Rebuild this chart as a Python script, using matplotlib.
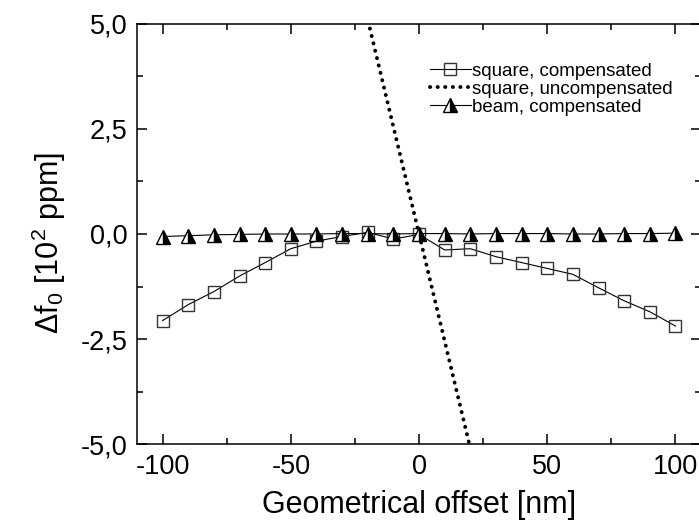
import matplotlib.pyplot as plt
from matplotlib.ticker import MultipleLocator

plt.rcParams['font.family'] = ['Liberation Sans', 'DejaVu Sans']
plt.rcParams['mathtext.fontset'] = 'custom'
plt.rcParams['mathtext.rm'] = 'Liberation Sans'
plt.rcParams['mathtext.it'] = 'Liberation Sans'

# offsets in nm, frequency shift in 10^2 ppm
offset = [-100, -90, -80, -70, -60, -50, -40, -30, -20, -10, 0,
          10, 20, 30, 40, 50, 60, 70, 80, 90, 100]
square_comp = [-2.06, -1.68, -1.37, -1.00, -0.68, -0.35, -0.17, -0.06, 0.04, -0.12, -0.01,
               -0.38, -0.35, -0.54, -0.68, -0.82, -0.96, -1.28, -1.59, -1.85, -2.19]
beam_comp = [-0.06, -0.04, -0.02, -0.01, 0.0, 0.0, 0.0, 0.01, 0.01, 0.0, 0.01,
             0.01, 0.0, 0.01, 0.01, 0.01, 0.0, 0.0, 0.01, 0.01, 0.02]
uncomp_offset = [-30, -20, -10, 0, 10, 20, 30]
square_uncomp = [7.65, 5.1, 2.55, 0.0, -2.55, -5.1, -7.65]

yticks = [-5.0, -2.5, 0.0, 2.5, 5.0]
ytick_labels = ['-5,0', '-2,5', '0,0', '2,5', '5,0']
xticks = [-100, -50, 0, 50, 100]
xtick_labels = ['-100', '-50', '0', '50', '100']

fig = plt.figure(figsize=(6.99, 5.30), dpi=100)
ax = fig.add_axes([0.196, 0.162, 0.807, 0.793])

ax.plot(offset, square_comp, color='black', lw=0.8, marker='s', ms=8.5,
        mfc='none', mec='#333333', mew=1.0, label='square, compensated')
ax.plot(uncomp_offset, square_uncomp, color='black', lw=2.8,
        linestyle=(0, (0.05, 1.9)), dash_capstyle='round',
        label='square, uncompensated')
ax.plot(offset, beam_comp, color='black', lw=0.8, marker='^', ms=10,
        fillstyle='right', mfc='black', mfcalt='white', mec='black', mew=1.0,
        label='beam, compensated')

ax.set_xlim(-110, 110)
ax.set_ylim(-5, 5)
ax.set_xticks(xticks)
ax.set_xticklabels(xtick_labels)
ax.set_yticks(yticks)
ax.set_yticklabels(ytick_labels)
ax.xaxis.set_minor_locator(MultipleLocator(25))
ax.yaxis.set_minor_locator(MultipleLocator(1.25))
ax.tick_params(which='both', direction='in', top=True, right=True,
               width=1.1, labelsize=19.5, pad=7)
ax.tick_params(which='major', length=7)
ax.tick_params(which='minor', length=4.5)
for s in ax.spines.values():
    s.set_linewidth(1.1)

ax.set_xlabel('Geometrical offset [nm]', fontsize=22, labelpad=7)
ax.set_ylabel(r'$\Delta$f$_0$ [10$^2$ ppm]', fontsize=22)
ax.yaxis.set_label_coords(-0.123, 0.479)

ax.legend(loc='upper right', bbox_to_anchor=(0.969, 0.935), frameon=False,
          fontsize=13.5, handlelength=2.2, handletextpad=0.05, labelspacing=0.05,
          borderaxespad=0.2)

fig.savefig('out.png', dpi=100)
